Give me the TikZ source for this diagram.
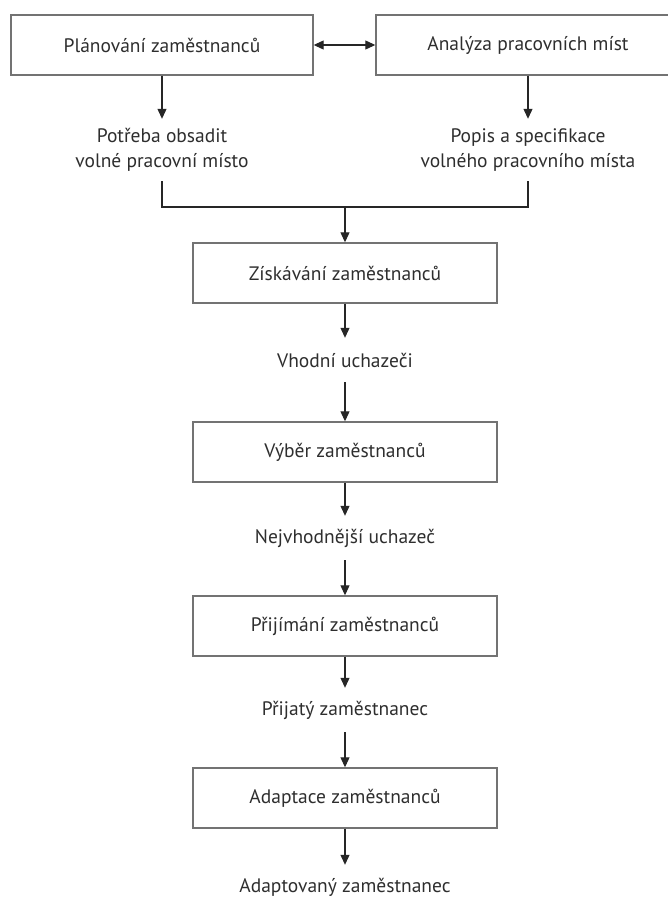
\documentclass[tikz,border=0pt]{standalone}
\usepackage{fontspec}
\setmainfont{PT Sans}
\usetikzlibrary{arrows.meta}
\begin{document}
\begin{tikzpicture}[x=1pt,y=-1pt,
  txt/.style={text=black!82, font=\fontsize{19.5}{25}\selectfont},
  box/.style={txt, draw=black!55, line width=1.4pt, minimum width=302pt, minimum height=60pt, inner sep=0pt},
  lbl/.style={txt, inner sep=0pt, minimum height=44pt, align=center},
  conn/.style={draw=black!85, line width=1.1pt},
  arr/.style={conn, -{Triangle[length=10pt,width=9pt]}},
  darr/.style={conn, {Triangle[length=10pt,width=9pt]}-{Triangle[length=10pt,width=9pt]}}]
\useasboundingbox (0,0) rectangle (668,897);
% top row
\node[box] (plan) at (162,45) {Plánování zaměstnanců};
\node[box, minimum width=304pt] (anal) at (528,45) {Analýza pracovních míst};
\draw[darr] (plan.east) -- (anal.west);
\node[lbl, minimum height=62pt] (potr) at (162,150) {Potřeba obsadit\\volné pracovní místo};
\node[lbl, minimum height=62pt] (popis) at (528,150) {Popis a specifikace\\volného pracovního místa};
\draw[arr] (plan.south) -- (potr.north);
\draw[arr] (anal.south) -- (popis.north);
\coordinate (j) at (345,207);
\draw[conn] (potr.south) |- (j) -| (popis.south);
% main column
\node[box, minimum width=304pt] (zisk) at (345,273) {Získávání zaměstnanců};
\draw[arr] (j) -- (zisk.north);
\node[lbl] (vhod) at (345,360) {Vhodní uchazeči};
\node[box, minimum width=304pt] (vyber) at (345,452) {Výběr zaměstnanců};
\node[lbl] (nejv) at (345,538) {Nejvhodnější uchazeč};
\node[box, minimum width=304pt] (prij) at (345,626) {Přijímání zaměstnanců};
\node[lbl] (prijaty) at (345,710) {Přijatý zaměstnanec};
\node[box, minimum width=304pt] (adapt) at (345,798) {Adaptace zaměstnanců};
\node[lbl] (adaptov) at (345,887) {Adaptovaný zaměstnanec};
\draw[arr] (zisk.south) -- (vhod.north);
\draw[arr] (vhod.south) -- (vyber.north);
\draw[arr] (vyber.south) -- (nejv.north);
\draw[arr] (nejv.south) -- (prij.north);
\draw[arr] (prij.south) -- (prijaty.north);
\draw[arr] (prijaty.south) -- (adapt.north);
\draw[arr] (adapt.south) -- (adaptov.north);
\end{tikzpicture}
\end{document}
